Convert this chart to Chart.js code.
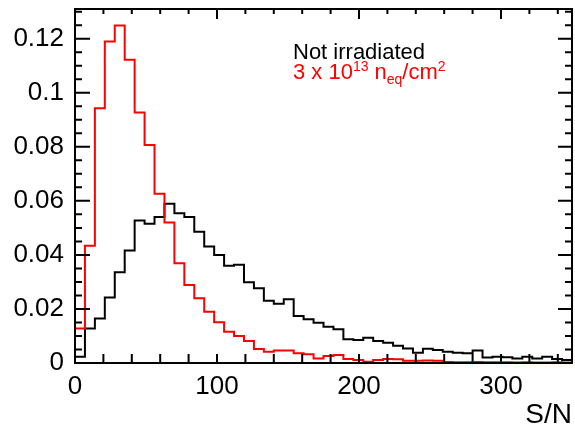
<!DOCTYPE html>
<html>
<head>
<meta charset="utf-8">
<script src="https://cdn.jsdelivr.net/npm/chart.js@4.4.1/dist/chart.umd.min.js"></script>
<style>
  html, body { margin: 0; padding: 0; background: #fff; }
  canvas { display: block; }
</style>
</head>
<body>
<canvas id="snHist" width="575" height="432"></canvas>
<script>
// S/N-verdeling: niet bestraald vs. 3e13 neq/cm2, 50 bins van 7 breed

const FONT = "'Liberation Sans', Arial, Helvetica, sans-serif";
const BIN_WIDTH = 7;
const X_TICKS = [0, 100, 200, 300];
const Y_TICKS = [0, 0.02, 0.04, 0.06, 0.08, 0.1, 0.12];

const NOT_IRRADIATED = [
    0.0023, 0.0128, 0.0165, 0.0242, 0.0336, 0.0416, 0.0527, 0.0515, 0.0540, 0.0589,
    0.0554, 0.0540, 0.0486, 0.0431, 0.0400, 0.0360, 0.0364, 0.0299, 0.0277, 0.0230,
    0.0219, 0.0236, 0.0174, 0.0162, 0.0149, 0.0134, 0.0125, 0.0088, 0.0085, 0.0093,
    0.0081, 0.0075, 0.0064, 0.0054, 0.0038, 0.0053, 0.0048, 0.0042, 0.0038, 0.0036,
    0.0046, 0.0020, 0.0023, 0.0021, 0.0017, 0.0023, 0.0017, 0.0023, 0.0015, 0.0011
];

const IRRADIATED = [
    0.0128, 0.0434, 0.0943, 0.1190, 0.1249, 0.1122, 0.0927, 0.0807, 0.0626, 0.0520,
    0.0369, 0.0289, 0.0240, 0.0190, 0.0151, 0.0116, 0.0100, 0.0081, 0.0052, 0.0042,
    0.0046, 0.0046, 0.0036, 0.0032, 0.0017, 0.0026, 0.0030, 0.0015, 0.0011, 0.0005,
    0.0011, 0.0015, 0.0014, 0.0008, 0.0008, 0.0009, 0.0008, 0.0004, 0.0003, 0.0003,
    0.0004, 0.0003, 0.0003, 0.0003, 0.0002, 0.0003, 0.0002, 0.0002, 0.0003, 0.0002
];

// histogram als stap-lijn: punt op elke linker binrand + afsluitende rechterrand
function toSteps(values) {
    const pts = [{ x: 0, y: 0 }];
    values.forEach((v, i) => pts.push({ x: i * BIN_WIDTH, y: v }));
    pts.push({ x: values.length * BIN_WIDTH, y: values[values.length - 1] });
    return pts;
}

// ROOT-achtig kader met tick-streepjes naar binnen op alle vier de zijden
const framePlugin = {
    id: 'rootFrame',
    afterDatasetsDraw(chart) {
        const { ctx, chartArea: a, scales: { x, y } } = chart;
        ctx.save();
        ctx.strokeStyle = '#000';
        ctx.lineWidth = 2;
        ctx.beginPath();
        for (let v = 0; v <= 350; v += 20) {
            const px = x.getPixelForValue(v);
            const major = v % 100 === 0;
            ctx.moveTo(px, a.bottom); ctx.lineTo(px, a.bottom - 9);
            ctx.moveTo(px, a.top); ctx.lineTo(px, a.top + (major ? 10 : 5));
        }
        for (let i = 0; i * 0.005 <= 0.131; i++) {
            const py = y.getPixelForValue(i * 0.005);
            const major = i % 4 === 0;
            ctx.moveTo(a.left, py); ctx.lineTo(a.left + (major ? 15 : 7), py);
            ctx.moveTo(a.right, py); ctx.lineTo(a.right - (major ? 14 : 7), py);
        }
        ctx.stroke();
        ctx.strokeRect(a.left, a.top, a.right - a.left, a.bottom - a.top);

        // legenda-tekst
        ctx.textBaseline = 'alphabetic';
        ctx.textAlign = 'left';
        ctx.fillStyle = '#000';
        ctx.font = `22px ${FONT}`;
        ctx.fillText('Not irradiated', 293, 59);

        ctx.fillStyle = '#ff0000';
        let cx = 293;
        const part = (txt, size, dy) => {
            ctx.font = `${size}px ${FONT}`;
            ctx.fillText(txt, cx, 79 + dy);
            cx += ctx.measureText(txt).width;
        };
        part('3 x 10', 22, 0);
        part('13', 14, -8);
        cx += 6;
        part('n', 22, 0);
        part('eq', 14, 5);
        part('/cm', 22, 0);
        part('2', 14, -8);
        ctx.restore();
    }
};

new Chart(document.getElementById('snHist').getContext('2d'), {
    type: 'line',
    data: {
        datasets: [
            {
                label: '3 x 10^13 neq/cm2',
                data: toSteps(IRRADIATED),
                borderColor: '#ff0000',
                borderWidth: 2,
                stepped: 'before',
                pointRadius: 0,
                fill: false
            },
            {
                label: 'Not irradiated',
                data: toSteps(NOT_IRRADIATED),
                borderColor: '#000000',
                borderWidth: 2,
                stepped: 'before',
                pointRadius: 0,
                fill: false
            }
        ]
    },
    options: {
        responsive: false,
        animation: false,
        layout: { padding: { top: 9, right: 3, left: 0, bottom: 0 } },
        plugins: { legend: { display: false }, tooltip: { enabled: false } },
        scales: {
            x: {
                type: 'linear',
                min: 0,
                max: 350,
                grid: { display: false, drawTicks: false },
                border: { display: false },
                afterBuildTicks: s => { s.ticks = X_TICKS.map(v => ({ value: v })); },
                afterFit: s => { s.height = 69; s.paddingLeft = 0; s.paddingRight = 0; },
                ticks: {
                    color: '#000',
                    font: { family: FONT, size: 26 },
                    padding: 8,
                    maxRotation: 0,
                    callback: v => String(v)
                },
                title: {
                    display: true,
                    text: 'S/N',
                    align: 'end',
                    color: '#000',
                    font: { family: FONT, size: 28 },
                    padding: { top: 0, bottom: 0 }
                }
            },
            y: {
                min: 0,
                max: 0.131,
                grid: { display: false, drawTicks: false },
                border: { display: false },
                afterBuildTicks: s => { s.ticks = Y_TICKS.map(v => ({ value: v })); },
                afterFit: s => { s.width = 75; s.paddingTop = 0; s.paddingBottom = 0; },
                ticks: {
                    color: '#000',
                    font: { family: FONT, size: 26 },
                    padding: 11,
                    callback: v => String(+v.toFixed(3))
                }
            }
        }
    },
    plugins: [framePlugin]
});
</script>
</body>
</html>
